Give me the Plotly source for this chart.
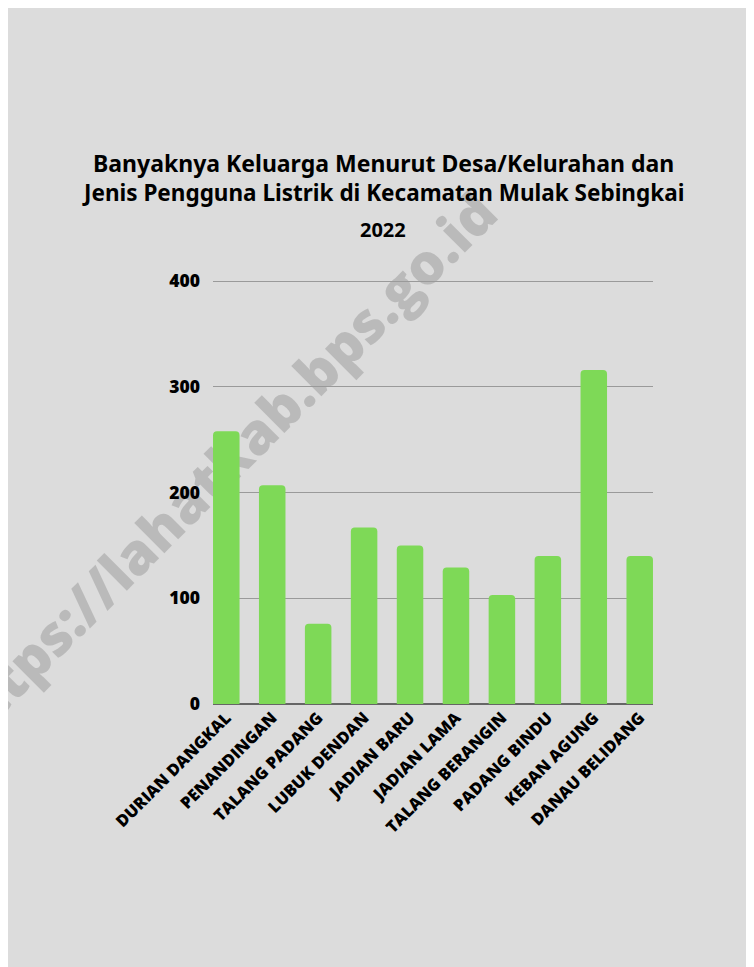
import plotly.graph_objects as go

categories = ["DURIAN DANGKAL", "PENANDINGAN", "TALANG PADANG", "LUBUK DENDAN",
              "JADIAN BARU", "JADIAN LAMA", "TALANG BERANGIN", "PADANG BINDU",
              "KEBAN AGUNG", "DANAU BELIDANG"]
values = [258, 207, 76, 167, 150, 129, 103, 140, 316, 140]
y_ticks = [0, 100, 200, 300, 400]

title_line1 = "Banyaknya Keluarga Menurut Desa/Kelurahan dan"
title_line2 = "Jenis Pengguna Listrik di Kecamatan Mulak Sebingkai"
subtitle = "2022"
watermark = "https://lahatkab.bps.go.id"

OFF = 8  # browser body margin
W, H = 754 - OFF, 967 - OFF
L, R, T, B = 213 - OFF, 101, 279 - OFF, 263
plot_h = H - T - B
plot_w = W - L - R

def px_x(x):
    return (x - OFF - L) / plot_w

def px_y(y):
    return (H - B - (y - OFF)) / plot_h

fig = go.Figure(go.Bar(
    x=list(range(len(categories))),
    y=values,
    marker=dict(color="#7ed957", cornerradius=4, line=dict(width=0)),
    hoverinfo="x+y",
))

fig.update_layout(
    width=W, height=H,
    margin=dict(l=L, r=R, t=T, b=B, pad=0),
    paper_bgcolor="#dcdcdc",
    plot_bgcolor="rgba(0,0,0,0)",
    bargap=0.423,
    showlegend=False,
    font=dict(family="Open Sans", color="#000000"),
)

fig.update_xaxes(
    range=[-0.289, len(categories) - 1 + 0.289],
    tickmode="array",
    tickvals=list(range(len(categories))),
    ticktext=categories,
    tickangle=-45,
    tickfont=dict(family="Open Sans", size=16.5, color="#000000", weight=800),
    showgrid=False,
    showline=False,
    zeroline=False,
    ticks="",
    ticklen=0,
)

fig.update_yaxes(
    range=[0, 402],
    tickmode="array",
    tickvals=y_ticks,
    ticktext=[str(v) for v in y_ticks],
    tickfont=dict(family="Open Sans", size=17.5, color="#000000", weight=800),
    showgrid=True,
    gridcolor="#9a9a9a",
    gridwidth=1,
    zeroline=True,
    zerolinecolor="#666666",
    zerolinewidth=2,
    showline=False,
    ticks="",
    ticklabelstandoff=12,
)

# watermark behind the bars
cx, cy = px_x(222), px_y(470)
fig.add_shape(
    type="rect", xref="paper", yref="paper",
    x0=cx - 0.01, x1=cx + 0.01, y0=cy - 0.01, y1=cy + 0.01,
    line=dict(width=0), fillcolor="rgba(0,0,0,0)",
    layer="below",
    label=dict(text=watermark, textangle=-45, textposition="middle center",
               font=dict(family="Open Sans", size=56, weight=800,
                         color="rgba(110,110,110,0.30)")),
)

fig.add_annotation(
    text=title_line1, xref="paper", yref="paper",
    x=px_x(383), y=px_y(163), xanchor="center", yanchor="middle",
    showarrow=False,
    font=dict(family="Noto Sans", size=23, color="#000000", weight=700),
)
fig.add_annotation(
    text=title_line2, xref="paper", yref="paper",
    x=px_x(383), y=px_y(192), xanchor="center", yanchor="middle",
    showarrow=False,
    font=dict(family="Noto Sans", size=22.5, color="#000000", weight=700),
)
fig.add_annotation(
    text=subtitle, xref="paper", yref="paper",
    x=px_x(383), y=px_y(229), xanchor="center", yanchor="middle",
    showarrow=False,
    font=dict(family="Open Sans", size=20, color="#000000", weight=700),
)

fig.write_html("out.html")
